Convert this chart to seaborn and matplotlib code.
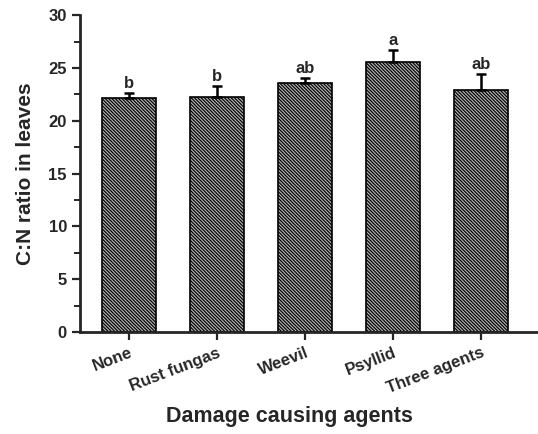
import numpy as np
import pandas as pd
import matplotlib
matplotlib.use("Agg")
import matplotlib.pyplot as plt
import seaborn as sns

agents = ["None", "Rust fungas", "Weevil", "Psyllid", "Three agents"]
cn_ratio = [22.15, 22.3, 23.55, 25.55, 22.95]
cn_se = [0.5, 1.0, 0.5, 1.2, 1.5]
letters = ["b", "b", "ab", "a", "ab"]

sns.set_style("ticks")
plt.rcParams["font.family"] = ["Liberation Sans", "DejaVu Sans"]
plt.rcParams["hatch.color"] = "#222222"
plt.rcParams["hatch.linewidth"] = 0.85

df = pd.DataFrame({"agent": agents, "ratio": cn_ratio})

fig = plt.figure(figsize=(5.38, 4.34), dpi=100)
ax = fig.add_axes([0.149, 0.235, 0.851, 0.73])
sns.barplot(data=df, x="agent", y="ratio", color="#b4b4b4", width=0.61,
            edgecolor="black", linewidth=1.2, errorbar=None, ax=ax, saturation=1)
for p in ax.patches:
    p.set_hatch("\\" * 10)

x = np.arange(len(agents))
ax.errorbar(x, cn_ratio, yerr=[np.zeros(len(cn_se)), cn_se], fmt="none",
            ecolor="black", elinewidth=1.8, capsize=3.6, capthick=1.8, zorder=1)
for xi, v, e, lab in zip(x, cn_ratio, cn_se, letters):
    ax.text(xi, v + e + 0.15, lab, ha="center", va="bottom",
            fontsize=12, fontweight="bold")

ax.set_ylim(0, 30)
ax.set_xlim(-0.557, 4.648)
ax.set_yticks([0, 5, 10, 15, 20, 25, 30])
ax.set_yticks(np.arange(2.5, 30, 5), minor=True)
ax.tick_params(axis="both", which="major", length=6, width=1.6, labelsize=12)
ax.tick_params(axis="y", which="minor", length=4, width=1.4)
for lab in ax.get_yticklabels():
    lab.set_fontweight("bold")
ax.set_xticks(x)
ax.set_xticklabels(agents, rotation=21, ha="right", rotation_mode="anchor",
                   fontweight="bold", fontsize=12)
for s in ["left", "bottom"]:
    ax.spines[s].set_linewidth(2)
sns.despine(ax=ax)

ax.set_ylabel("C:N ratio in leaves", fontsize=15, fontweight="bold", labelpad=10)
ax.set_xlabel("Damage causing agents", fontsize=15.5, fontweight="bold", labelpad=10)
ax.xaxis.set_label_coords(0.458, -0.232)

fig.savefig("out.png", dpi=100)
